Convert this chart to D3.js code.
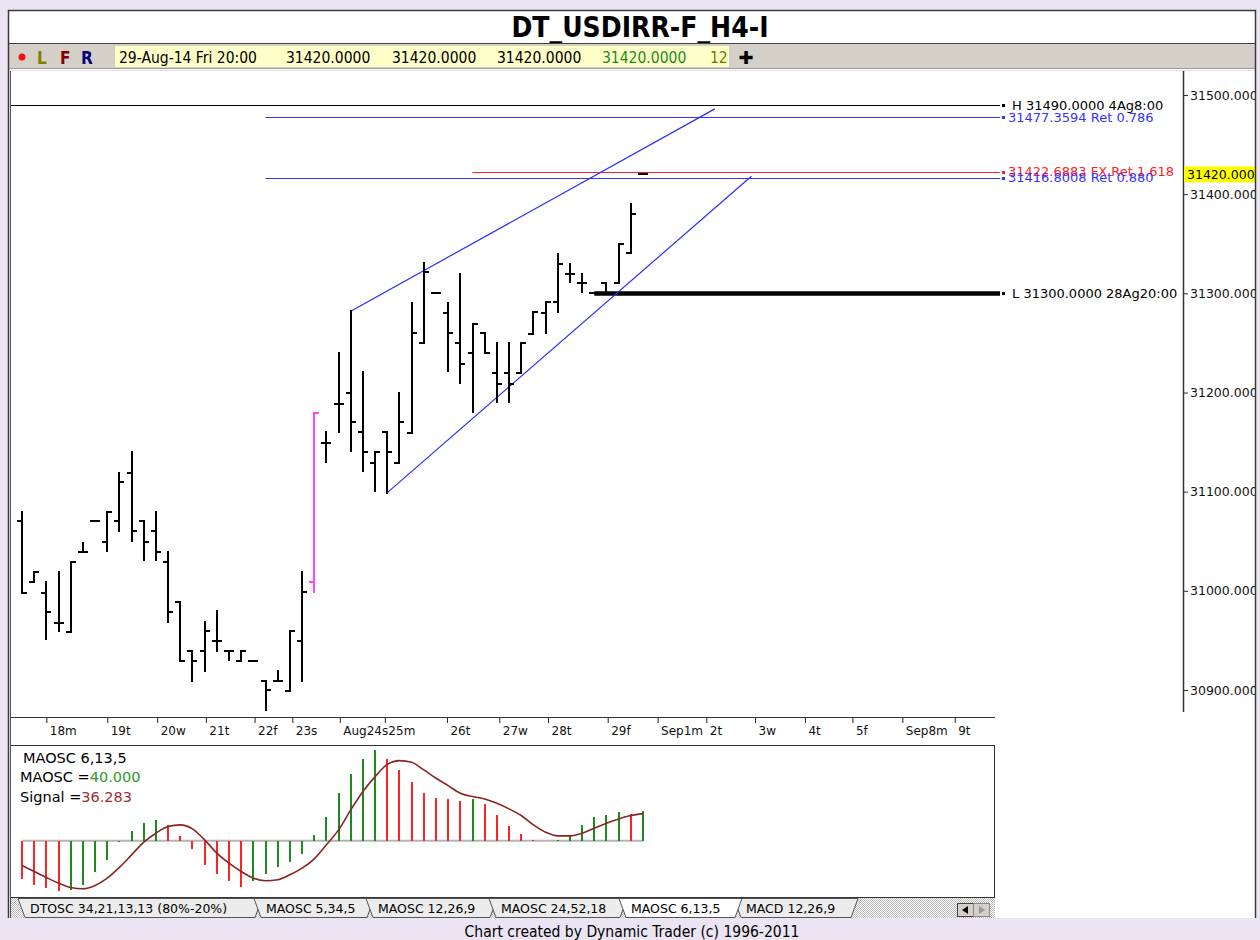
<!DOCTYPE html>
<html>
<head>
<meta charset="utf-8">
<script src="https://cdn.jsdelivr.net/npm/d3@7"></script>
<style>
  body { margin: 0; background: #ebe5f3; }
  svg { display: block; }
</style>
</head>
<body>
<div id="chart"></div>
<script>
// 4H price bars (index 0 = first bar on the left)
var barOpen  = [31070, 31009, 30998, 30968, 30958, 31039, 31070, 31049, 31070, 31119,
                31070, 31060, 31029, 30989, 30939, 30939, 30949, 30939, 30929, 30929,
                30909, 30909, 30899, 30949, 31009, 31149, 31188, 31200, 31160, 31129,
                31160, 31129, 31159, 31250, 31300, 31280, 31250, 31240, 31260, 31220,
                31220, 31220, 31259, 31280, 31291, 31320, 31310, 31300, 31310, 31310,
                31341, 31420];
var barHigh  = [31079, 31019, 31009, 31019, 31029, 31048, 31070, 31079, 31119, 31140,
                31070, 31079, 31039, 30989, 30939, 30969, 30980, 30939, 30939, 30929,
                30909, 30919, 30959, 31019, 31179, 31160, 31240, 31282, 31221, 31140,
                31160, 31200, 31290, 31331, 31300, 31290, 31320, 31269, 31260, 31250,
                31250, 31250, 31281, 31291, 31340, 31330, 31320, 31300, 31310, 31350,
                31390, 31420];
var barLow   = [30998, 31009, 30951, 30960, 30958, 31039, 31070, 31040, 31060, 31050,
                31031, 31031, 30969, 30929, 30909, 30919, 30939, 30930, 30929, 30929,
                30880, 30909, 30899, 30909, 30999, 31130, 31160, 31141, 31121, 31101,
                31099, 31129, 31159, 31250, 31300, 31222, 31210, 31180, 31240, 31190,
                31190, 31220, 31259, 31260, 31281, 31311, 31301, 31300, 31300, 31310,
                31341, 31420];
var barClose = [30998, 31019, 30979, 30968, 31029, 31039, 31070, 31079, 31110, 31060,
                31049, 31039, 30979, 30929, 30929, 30959, 30949, 30939, 30939, 30929,
                30900, 30909, 30959, 30999, 31179, 31149, 31188, 31170, 31140, 31140,
                31140, 31170, 31260, 31322, 31300, 31260, 31229, 31269, 31240, 31209,
                31209, 31250, 31281, 31291, 31330, 31320, 31310, 31300, 31300, 31350,
                31380, 31420];
var gapBar = 24;   // the pink bar

// MAOSC 6,13,5 histogram and signal
var maoscValues  = [-51, -59.6, -63, -67.5, -65, -58.7, -42, -25, -1, 13.3,
                    23.5, 28, 21.3, 7, -10.7, -32, -44.4, -53.3, -61, -53.3,
                    -44.4, -35.5, -28.4, -17.8, 8, 32.4, 63.5, 88.9, 109.3, 121.8,
                    109.3, 94.7, 78.2, 63.5, 57.8, 55.5, 53.3, 55.5, 48.9, 34.7,
                    20.4, 9.3, 1.3, 0.4, 1.3, 8, 21.3, 32.4, 34.7, 39,
                    35.5, 40];
var signalValues = [-32.9, -40.9, -48.9, -56.4, -62.2, -64, -59.6, -49.8, -35.5, -18.7,
                    -1.8, 10.2, 19.1, 21.3, 16, 1.3, -16.4, -29.8, -40.9, -49.8,
                    -53.3, -52, -45.3, -36.4, -24, -5.3, 14.7, 41.3, 65.8, 85.8,
                    102.2, 107.1, 104.9, 94.7, 83.6, 73.8, 63.5, 59.1, 56, 50.2,
                    42.7, 33.8, 21.3, 11.6, 6.7, 6.7, 10.2, 16.9, 23.5, 29.3,
                    33.8, 36.3];

// date axis (bar index of each day start)
var dateTickIdx = [2, 7, 11.1, 15.1, 19.1, 22.2, 26.1, 29.8, 34.9, 39.2,
                   43.2, 48.1, 52.2, 56.2, 60.2, 64.3, 68.2, 72.3, 76.6];
var dateTickLabels = ["18m", "19t", "20w", "21t", "22f", "23s", "Aug24s", "25m", "26t", "27w",
                      "28t", "29f", "Sep1m", "2t", "3w", "4t", "5f", "Sep8m", "9t"];

// price axis
var priceTicks = [30900, 31000, 31100, 31200, 31300, 31400, 31500];
var lastPrice = 31420;

// horizontal levels
var levelPrices   = [31490, 31477.3594, 31422.6883, 31416.8008, 31300];
var levelStartIdx = [-1, 20, 37, 20, 47];
var levelLabels   = ["H 31490.0000 4Ag8:00", "31477.3594 Ret 0.786", "31422.6883 FX Ret 1.618",
                     "31416.8008 Ret 0.880", "L 31300.0000 28Ag20:00"];

// channel trendlines, [bar index, price]
var upperTrend = [[27, 31282], [56.9, 31486]];
var lowerTrend = [[30, 31099], [59.9, 31418]];

// toolbar readout
var readoutTexts = ["29-Aug-14 Fri 20:00", "31420.0000", "31420.0000", "31420.0000", "31420.0000", "12"];

// indicator tabs
var tabLabels = ["DTOSC 34,21,13,13 (80%-20%)", "MAOSC 5,34,5", "MAOSC 12,26,9",
                 "MAOSC 24,52,18", "MAOSC 6,13,5", "MACD 12,26,9"];
var activeTab = 4;

// ***** drawing ***** //
var FONT = "'DejaVu Sans', sans-serif",
    CFONT = "'DejaVu Sans Condensed', 'DejaVu Sans', sans-serif";

var width = 1260, height = 940;

var svg = d3.select("#chart").append("svg")
    .attr("width", width)
    .attr("height", height);

// hatch pattern for the tab strip
var defs = svg.append("defs");
var pat = defs.append("pattern")
    .attr("id", "hatch")
    .attr("width", 2).attr("height", 2)
    .attr("patternUnits", "userSpaceOnUse");
pat.append("rect").attr("width", 2).attr("height", 2).attr("fill", "#ffffff");
pat.append("rect").attr("width", 1).attr("height", 1).attr("fill", "#b8b8b8");
pat.append("rect").attr("x", 1).attr("y", 1).attr("width", 1).attr("height", 1).attr("fill", "#b8b8b8");

// window
svg.append("rect")
    .attr("x", 8).attr("y", 10)
    .attr("width", 1248).attr("height", 908)
    .attr("fill", "#fff");

// title
svg.append("text")
    .attr("x", 640).attr("y", 37)
    .attr("text-anchor", "middle")
    .style("font-family", CFONT)
    .style("font-weight", "bold")
    .style("font-size", "28px")
    .text("DT_USDIRR-F_H4-I");

svg.append("line")
    .attr("x1", 8).attr("x2", 1256).attr("y1", 43.5).attr("y2", 43.5)
    .attr("stroke", "#404040");

// toolbar
svg.append("rect")
    .attr("x", 9).attr("y", 44)
    .attr("width", 1247).attr("height", 24)
    .attr("fill", "#d4d0c8");
svg.append("line")
    .attr("x1", 9).attr("x2", 1256).attr("y1", 68.5).attr("y2", 68.5)
    .attr("stroke", "#9a9a9a");
svg.append("line")
    .attr("x1", 9).attr("x2", 1256).attr("y1", 70.5).attr("y2", 70.5)
    .attr("stroke", "#e2e2e2");

svg.append("circle")
    .attr("cx", 22).attr("cy", 57).attr("r", 3.5)
    .attr("fill", "#ee1111");

var flags = [{t: "L", x: 37, c: "#808000"}, {t: "F", x: 60, c: "#800000"}, {t: "R", x: 81, c: "#000080"}];
svg.selectAll("text.flag")
    .data(flags)
    .enter().append("text")
    .attr("class", "flag")
    .attr("x", function(d) { return d.x; })
    .attr("y", 64)
    .attr("fill", function(d) { return d.c; })
    .style("font-family", CFONT)
    .style("font-weight", "bold")
    .style("font-size", "17px")
    .text(function(d) { return d.t; });

svg.append("rect")
    .attr("x", 115).attr("y", 46)
    .attr("width", 614).attr("height", 21)
    .attr("fill", "#ffffc8");

var readoutX = [119, 286, 392, 497, 602, 710],
    readoutColor = ["#000", "#000", "#000", "#000", "#1a8a1a", "#6a7a00"];
svg.append("clipPath").attr("id", "readclip")
    .append("rect").attr("x", 115).attr("y", 46).attr("width", 614).attr("height", 21);
svg.append("g")
    .attr("clip-path", "url(#readclip)")
    .selectAll("text")
    .data(readoutTexts)
    .enter().append("text")
    .attr("x", function(d, i) { return readoutX[i]; })
    .attr("y", 63)
    .attr("fill", function(d, i) { return readoutColor[i]; })
    .style("font-family", CFONT)
    .style("font-size", "15.5px")
    .text(function(d) { return d; });

svg.append("text")
    .attr("x", 746).attr("y", 64)
    .attr("text-anchor", "middle")
    .style("font-family", FONT)
    .style("font-weight", "bold")
    .style("font-size", "18px")
    .text("\u271A");

// scales
var x = d3.scaleLinear().domain([0, 51]).range([22, 643]);
var y = d3.scaleLinear().domain([30900, 31500]).range([690, 95]);
var yOsc = d3.scaleLinear().domain([-75, 128]).range([897, 745]);

// price axis
var priceAxis = d3.axisRight(y)
    .tickValues(priceTicks)
    .tickSize(5)
    .tickFormat(d3.format(".3f"));

var gAxis = svg.append("g")
    .attr("transform", "translate(1183,0)")
    .call(priceAxis);
gAxis.select(".domain").remove();
gAxis.selectAll("text")
    .attr("x", 7)
    .attr("fill", "#111")
    .style("font-family", FONT)
    .style("font-size", "12.5px");
gAxis.selectAll("line").attr("stroke", "#333");

svg.append("line")
    .attr("x1", 1183.5).attr("x2", 1183.5).attr("y1", 71).attr("y2", 712)
    .attr("stroke", "#333").attr("stroke-width", 1.5);

// last price marker
svg.append("rect")
    .attr("x", 1184).attr("y", y(lastPrice) - 8)
    .attr("width", 72).attr("height", 16)
    .attr("fill", "#ffff00");
svg.append("text")
    .attr("x", 1187).attr("y", y(lastPrice))
    .attr("dy", "0.35em")
    .style("font-family", FONT)
    .style("font-size", "12.5px")
    .text(d3.format(".3f")(lastPrice));

// date axis
var dateAxis = d3.axisBottom(x)
    .tickValues(dateTickIdx)
    .tickSize(6)
    .tickFormat(function(d, i) { return dateTickLabels[i]; });

var gDate = svg.append("g")
    .attr("transform", "translate(0,717)")
    .call(dateAxis);
gDate.select(".domain").remove();
gDate.selectAll("line").attr("stroke", "#222").attr("stroke-width", 1);
gDate.selectAll("text")
    .attr("text-anchor", "start")
    .attr("x", 3)
    .attr("y", 9)
    .attr("fill", "#111")
    .style("font-family", FONT)
    .style("font-size", "12px");

svg.append("line")
    .attr("x1", 10).attr("x2", 995).attr("y1", 717.5).attr("y2", 717.5)
    .attr("stroke", "#333");

// level lines
var levelColor = ["#000", "#3333ff", "#ff2222", "#3333ff", "#000"],
    levelWidth = [1, 1.2, 1.2, 1.2, 4.5],
    levelTextX = [1012, 1008, 1008, 1008, 1012],
    lineEnd = 1000;

var levels = svg.append("g").attr("class", "levels");
levelPrices.forEach(function(p, i) {
    var ly = Math.round(y(p)) + 0.5;
    levels.append("line")
        .attr("x1", x(levelStartIdx[i])).attr("x2", lineEnd)
        .attr("y1", ly).attr("y2", ly)
        .attr("stroke", levelColor[i])
        .attr("stroke-width", levelWidth[i]);
    levels.append("rect")
        .attr("x", 1002).attr("y", ly - 1.5)
        .attr("width", 3).attr("height", 3)
        .attr("fill", levelColor[i]);
});
levelPrices.forEach(function(p, i) {
    levels.append("text")
        .attr("x", levelTextX[i])
        .attr("y", y(p))
        .attr("dy", "0.36em")
        .attr("fill", levelColor[i])
        .style("font-family", FONT)
        .style("font-size", "13px")
        .text(levelLabels[i]);
});

// channel
var trend = d3.line()
    .x(function(d) { return x(d[0]); })
    .y(function(d) { return y(d[1]); });

[upperTrend, lowerTrend].forEach(function(t) {
    svg.append("path")
        .attr("d", trend(t))
        .attr("fill", "none")
        .attr("stroke", "#2b2bff")
        .attr("stroke-width", 1.2);
});

// price bars
var bars = barOpen.map(function(o, i) {
    return {i: i, o: o, h: barHigh[i], l: barLow[i], c: barClose[i]};
});

var barG = svg.selectAll("g.bar")
    .data(bars)
    .enter().append("g")
    .attr("class", "bar")
    .attr("stroke", function(d) { return d.i === gapBar ? "#ff44ff" : "#000"; })
    .attr("stroke-width", 2)
    .attr("shape-rendering", "crispEdges");

barG.append("line")
    .attr("x1", function(d) { return Math.round(x(d.i)); })
    .attr("x2", function(d) { return Math.round(x(d.i)); })
    .attr("y1", function(d) { return Math.round(y(d.h)) - 1; })
    .attr("y2", function(d) { return Math.round(y(d.l)) + 1; });

barG.append("line")
    .attr("x1", function(d) { return Math.round(x(d.i)) - 5; })
    .attr("x2", function(d) { return Math.round(x(d.i)); })
    .attr("y1", function(d) { return Math.round(y(d.o)); })
    .attr("y2", function(d) { return Math.round(y(d.o)); });

barG.append("line")
    .attr("x1", function(d) { return Math.round(x(d.i)); })
    .attr("x2", function(d) { return Math.round(x(d.i)) + 5; })
    .attr("y1", function(d) { return Math.round(y(d.c)); })
    .attr("y2", function(d) { return Math.round(y(d.c)); });

// oscillator panel
svg.append("rect")
    .attr("x", 10.5).attr("y", 745.5)
    .attr("width", 984).attr("height", 152)
    .attr("fill", "#fff")
    .attr("stroke", "#333");

svg.append("line")
    .attr("x1", x(0)).attr("x2", x(51))
    .attr("y1", yOsc(0)).attr("y2", yOsc(0))
    .attr("stroke", "#b4b4b4")
    .attr("stroke-width", 2);

svg.selectAll("line.hist")
    .data(maoscValues)
    .enter().append("line")
    .attr("class", "hist")
    .attr("x1", function(d, i) { return Math.round(x(i)); })
    .attr("x2", function(d, i) { return Math.round(x(i)); })
    .attr("y1", yOsc(0))
    .attr("y2", function(d) { return yOsc(d); })
    .attr("stroke", function(d, i) {
        return i > 0 && d > maoscValues[i - 1] ? "#1f8a1f" : "#ff2222";
    })
    .attr("stroke-width", 2)
    .attr("shape-rendering", "crispEdges");

var sigLine = d3.line()
    .x(function(d, i) { return x(i); })
    .y(function(d) { return yOsc(d); })
    .curve(d3.curveMonotoneX);

svg.append("path")
    .attr("d", sigLine(signalValues))
    .attr("fill", "none")
    .attr("stroke", "#8a2424")
    .attr("stroke-width", 1.6);

var oscText = svg.append("g")
    .style("font-family", FONT)
    .style("font-size", "14.5px");
oscText.append("text").attr("x", 23).attr("y", 763).text("MAOSC 6,13,5");
var t2 = oscText.append("text").attr("x", 20).attr("y", 782);
t2.append("tspan").text("MAOSC =");
t2.append("tspan").attr("fill", "#2a9a2a").text(d3.format(".3f")(maoscValues[maoscValues.length - 1]));
var t3 = oscText.append("text").attr("x", 20).attr("y", 802);
t3.append("tspan").text("Signal =");
t3.append("tspan").attr("fill", "#9a3030").text("36.283");

// tab strip
svg.append("rect")
    .attr("x", 11).attr("y", 898)
    .attr("width", 984).attr("height", 20)
    .attr("fill", "url(#hatch)");

var tabLeft  = [18, 254, 366, 489, 619, 734],
    tabRight = [262, 374, 497, 627, 742, 858];

var tabOrder = d3.range(tabLabels.length).filter(function(i) { return i !== activeTab; }).concat([activeTab]);
tabOrder.forEach(function(i) {
    var l = tabLeft[i], r = tabRight[i];
    svg.append("path")
        .attr("d", "M" + l + ",898.5 L" + r + ",898.5 L" + (r - 7) + ",917.5 L" + (l + 7) + ",917.5 Z")
        .attr("fill", i === activeTab ? "#ffffff" : "#ececec")
        .attr("stroke", "#555");
    svg.append("text")
        .attr("x", l + 12).attr("y", 913)
        .style("font-family", FONT)
        .style("font-size", "12.5px")
        .text(tabLabels[i]);
});

// scroll arrows
svg.append("rect").attr("x", 957.5).attr("y", 903.5).attr("width", 16).attr("height", 13)
    .attr("fill", "#d4d0c8").attr("stroke", "#444");
svg.append("rect").attr("x", 973.5).attr("y", 903.5).attr("width", 16).attr("height", 13)
    .attr("fill", "#d4d0c8").attr("stroke", "#888");
svg.append("path").attr("d", "M962,910 L968,906 L968,914 Z").attr("fill", "#000");
svg.append("path").attr("d", "M985,910 L979,906 L979,914 Z").attr("fill", "#999");

// frame and clipping at the right edge
svg.append("rect")
    .attr("x", 1256).attr("y", 0)
    .attr("width", 4).attr("height", height)
    .attr("fill", "#ebe5f3");
svg.append("rect")
    .attr("x", 0).attr("y", 918.5)
    .attr("width", width).attr("height", 22)
    .attr("fill", "#ebe5f3");
svg.append("path")
    .attr("d", "M8.5,918 L8.5,10.5 L1255.5,10.5 L1255.5,918")
    .attr("fill", "none")
    .attr("stroke", "#3a3a3a")
    .attr("stroke-width", 1.5);
svg.append("line")
    .attr("x1", 10.5).attr("x2", 10.5).attr("y1", 71).attr("y2", 918)
    .attr("stroke", "#555");

// footer
svg.append("text")
    .attr("x", 632).attr("y", 937)
    .attr("text-anchor", "middle")
    .style("font-family", CFONT)
    .style("font-size", "15.5px")
    .text("Chart created by Dynamic Trader  (c) 1996-2011");
</script>
</body>
</html>
